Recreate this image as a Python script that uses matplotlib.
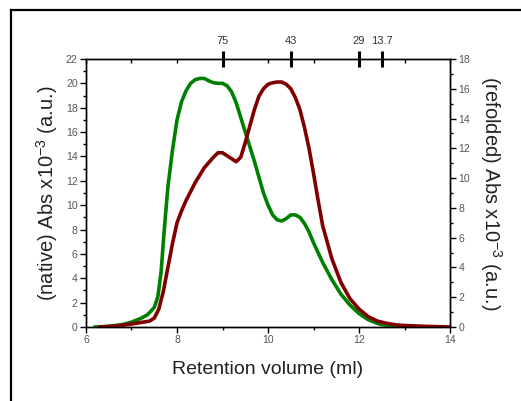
import numpy as np
import matplotlib.pyplot as plt
from matplotlib.lines import Line2D
from matplotlib.ticker import MultipleLocator

plt.rcParams["font.family"] = ["Liberation Sans", "DejaVu Sans"]
plt.rcParams["mathtext.fontset"] = "custom"
plt.rcParams["mathtext.rm"] = "Liberation Sans"
plt.rcParams["mathtext.it"] = "Liberation Sans:italic"

# native (green, left axis)
vol_native = [6.2, 6.5, 6.8, 7.0, 7.2, 7.35, 7.5, 7.58, 7.65, 7.72, 7.8, 7.9, 8.0, 8.1, 8.2,
              8.3, 8.4, 8.5, 8.6, 8.7, 8.8, 8.9, 9.0, 9.1, 9.2, 9.3, 9.4, 9.5, 9.6, 9.7,
              9.8, 9.9, 10.0, 10.1, 10.2, 10.3, 10.4, 10.5, 10.6, 10.7, 10.8, 10.9, 11.0,
              11.2, 11.4, 11.6, 11.8, 12.0, 12.2, 12.4, 12.6, 12.8, 13.0]
abs_native = [0.0, 0.05, 0.2, 0.4, 0.7, 1.0, 1.6, 2.5, 4.5, 8.0, 11.5, 14.5, 17.0, 18.5, 19.4,
              20.0, 20.3, 20.4, 20.4, 20.2, 20.05, 20.0, 20.0, 19.8, 19.3, 18.4, 17.2, 16.0, 14.8, 13.6,
              12.3, 11.0, 10.0, 9.2, 8.8, 8.7, 8.9, 9.2, 9.2, 9.0, 8.5, 7.8, 6.9,
              5.3, 3.9, 2.7, 1.8, 1.1, 0.6, 0.3, 0.1, 0.03, 0.0]

# refolded (dark red, right axis)
vol_refold = [6.3, 6.7, 7.0, 7.2, 7.4, 7.5, 7.6, 7.7, 7.8, 7.9, 8.0, 8.1, 8.2, 8.4, 8.6,
              8.8, 8.9, 9.0, 9.1, 9.2, 9.3, 9.4, 9.5, 9.6, 9.7, 9.8, 9.9, 10.0, 10.1,
              10.2, 10.3, 10.4, 10.5, 10.6, 10.7, 10.8, 10.9, 11.0, 11.1, 11.2, 11.4,
              11.6, 11.8, 12.0, 12.2, 12.4, 12.6, 12.8, 13.0, 13.5, 14.0]
abs_refold = [0.0, 0.08, 0.2, 0.3, 0.4, 0.6, 1.2, 2.4, 4.0, 5.6, 7.0, 7.8, 8.5, 9.7, 10.7,
              11.4, 11.7, 11.7, 11.5, 11.3, 11.1, 11.4, 12.4, 13.5, 14.6, 15.5, 16.0, 16.3, 16.4,
              16.45, 16.45, 16.3, 16.0, 15.4, 14.6, 13.4, 12.0, 10.3, 8.5, 6.8, 4.6,
              3.0, 1.9, 1.2, 0.7, 0.4, 0.25, 0.15, 0.1, 0.04, 0.0]

marker_vol = [9.0, 10.5, 12.0, 12.5]
marker_kda = ["75", "43", "29", "13.7"]

fig = plt.figure(figsize=(5.21, 4.01), dpi=100)
ax1 = fig.add_axes([0.165, 0.1845, 0.699, 0.6685])
ax2 = ax1.twinx()

ax1.plot(vol_native, abs_native, color="#008000", lw=2.6, zorder=3)
ax2.plot(vol_refold, abs_refold, color="#800000", lw=2.6)

ax1.set_xlim(6, 14)
ax1.set_ylim(0, 22)
ax2.set_ylim(0, 18)
ax1.xaxis.set_major_locator(MultipleLocator(2))
ax1.xaxis.set_minor_locator(MultipleLocator(1))
ax1.yaxis.set_major_locator(MultipleLocator(2))
ax1.yaxis.set_minor_locator(MultipleLocator(1))
ax2.yaxis.set_major_locator(MultipleLocator(2))
ax2.yaxis.set_minor_locator(MultipleLocator(1))

grey = "#555555"
for a in (ax1, ax2):
    a.tick_params(which="major", length=4, width=1, labelsize=7.5, labelcolor=grey, direction="out", pad=2)
    a.tick_params(which="minor", length=2, width=1, direction="out")
    for s in a.spines.values():
        s.set_linewidth(1)

# top axis: molecular weight standards plus small inward ticks
top = ax1.secondary_xaxis("top")
top.set_xticks(marker_vol)
top.set_xticklabels(marker_kda)
top.xaxis.set_minor_locator(MultipleLocator(1))
top.tick_params(which="major", length=12, width=2.2, direction="inout", labelsize=8,
                labelcolor="#333333", pad=3)
top.tick_params(which="minor", length=3, width=1, direction="in")
top.spines["top"].set_visible(False)

ax1.set_xlabel("Retention volume (ml)", fontsize=14, color="#222222", labelpad=11)
ax1.set_ylabel("(native) Abs x10$^{-3}$ (a.u.)", fontsize=14.5, color="#222222", labelpad=4)
ax2.set_ylabel("(refolded) Abs x10$^{-3}$ (a.u.)", fontsize=14.5, color="#222222",
               rotation=270, labelpad=24)

# outer frame (left and top edges visible)
fig.add_artist(Line2D([11 / 521, 11 / 521], [0, 1 - 10 / 401], transform=fig.transFigure, color="black", lw=1.6))
fig.add_artist(Line2D([11 / 521, 1], [1 - 10 / 401, 1 - 10 / 401], transform=fig.transFigure, color="black", lw=1.6))

fig.savefig("out.png", dpi=100)
plt.close(fig)
